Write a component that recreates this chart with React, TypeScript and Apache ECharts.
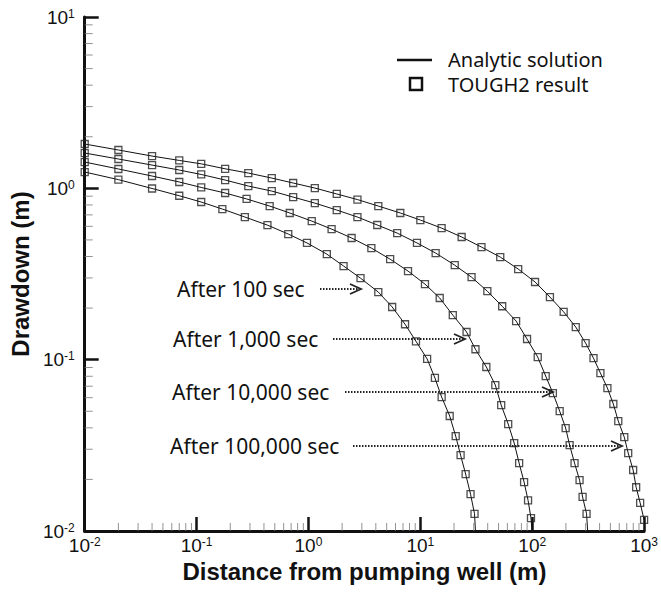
import React, { useEffect, useRef } from "react";
import * as echarts from "echarts";

// Distance from pumping well (m) and drawdown (m)
const R_100 = [0.01, 0.02, 0.04, 0.07, 0.11, 0.17, 0.27, 0.43, 0.66, 0.97, 1.46, 2.06, 2.92, 4.21, 5.6, 7.3, 9.14, 11.5, 13.5, 15.5, 18.3, 20.7, 22.9, 25.4, 28.1, 30.5];
const S_100 = [1.245, 1.124, 0.998, 0.905, 0.832, 0.757, 0.680, 0.610, 0.541, 0.480, 0.413, 0.352, 0.299, 0.248, 0.203, 0.161, 0.128, 0.101, 0.0782, 0.0605, 0.0469, 0.0358, 0.0277, 0.0215, 0.0164, 0.0126];

const R_1000 = [0.01, 0.02, 0.04, 0.07, 0.11, 0.18, 0.28, 0.45, 0.68, 1.07, 1.61, 2.43, 3.65, 5.37, 7.76, 11.0, 14.9, 19.5, 25.9, 31.1, 38.9, 46.8, 52.8, 61.0, 69.0, 76.4, 84.6, 91.8, 97.5];
const S_1000 = [1.424, 1.297, 1.18, 1.089, 1.012, 0.939, 0.867, 0.788, 0.718, 0.644, 0.578, 0.513, 0.448, 0.386, 0.329, 0.276, 0.229, 0.182, 0.145, 0.115, 0.0906, 0.0711, 0.0543, 0.0421, 0.0326, 0.0249, 0.0193, 0.0151, 0.0119];

const R_10000 = [0.01, 0.02, 0.04, 0.07, 0.11, 0.18, 0.29, 0.47, 0.73, 1.14, 1.79, 2.74, 4.12, 6.21, 9.33, 13.7, 20.3, 28.7, 39.7, 53.9, 71.8, 89.9, 112, 132, 153, 176, 199, 216, 239, 265, 282, 306];
const S_10000 = [1.607, 1.483, 1.367, 1.279, 1.205, 1.118, 1.031, 0.964, 0.889, 0.820, 0.747, 0.680, 0.611, 0.548, 0.480, 0.419, 0.356, 0.303, 0.251, 0.205, 0.168, 0.132, 0.1035, 0.0802, 0.0638, 0.0501, 0.0399, 0.0317, 0.0249, 0.0198, 0.0158, 0.0126];

const R_100000 = [0.01, 0.02, 0.04, 0.07, 0.11, 0.18, 0.29, 0.47, 0.73, 1.14, 1.79, 2.74, 4.21, 6.62, 10.0, 15.5, 23.4, 35.2, 51.8, 74.9, 106, 144, 191, 245, 300, 353, 407, 470, 531, 588, 665, 721, 798, 849, 922, 1000];
const S_100000 = [1.814, 1.674, 1.543, 1.455, 1.39, 1.30, 1.228, 1.148, 1.074, 1.004, 0.927, 0.860, 0.788, 0.718, 0.653, 0.586, 0.520, 0.454, 0.397, 0.338, 0.284, 0.232, 0.190, 0.155, 0.125, 0.102, 0.0835, 0.0683, 0.0551, 0.0438, 0.0353, 0.0285, 0.0227, 0.0180, 0.0146, 0.0116];

// where each analytic curve meets the bottom axis
const END_R = [31.1, 99.6, 313, 1000];
const END_S = [0.01, 0.01, 0.01, 0.0116];

const CURVE_R = [R_100, R_1000, R_10000, R_100000];
const CURVE_S = [S_100, S_1000, S_10000, S_100000];

const X_MIN = 0.01, X_MAX = 1000;
const Y_MIN = 0.01, Y_MAX = 10;
const X_DECADES = [0.01, 0.1, 1, 10, 100];
const Y_DECADES = [0.01, 0.1, 1];
const MINOR_MULT = [2, 3, 4, 5, 6, 7, 8, 9];

const ANNOT_TEXT = ["After 100 sec", "After 1,000 sec", "After 10,000 sec", "After 100,000 sec"];

const LINE_NAME = "Analytic solution";
const SYM_NAME = "TOUGH2 result";

export default function App() {
  const ref = useRef<HTMLDivElement>(null);
  useEffect(() => {
    if (!ref.current) return;
    const chart = echarts.init(ref.current, undefined, { renderer: "svg" });

    const supLabel = (v: number) => {
      const e = Math.round(Math.log10(v));
      return `{b|10}{s|${e}}`;
    };
    const rich = {
      b: { fontSize: 19, fontFamily: "Liberation Sans", color: "#111" },
      s: { fontSize: 12, fontFamily: "Liberation Sans", color: "#111", verticalAlign: "top", lineHeight: 12 },
    };

    const minorX: number[][] = [];
    X_DECADES.forEach((d) => MINOR_MULT.forEach((m) => minorX.push([d * m, Y_MIN])));
    const minorY: number[][] = [];
    Y_DECADES.forEach((d) => MINOR_MULT.forEach((m) => minorY.push([X_MIN, d * m])));

    const series: any[] = [];
    CURVE_R.forEach((rs, i) => {
      const pts = rs.map((r, j) => [r, CURVE_S[i][j]]);
      const linePts = pts.slice();
      const last = pts[pts.length - 1];
      if (last[0] !== END_R[i] || last[1] !== END_S[i]) linePts.push([END_R[i], END_S[i]]);
      series.push({
        name: LINE_NAME,
        type: "line",
        data: linePts,
        symbol: "none",
        lineStyle: { color: "#111", width: 1 },
        itemStyle: { color: "#111" },
        z: 2,
        silent: true,
      });
      series.push({
        name: SYM_NAME,
        type: "scatter",
        data: pts,
        symbol: "rect",
        symbolSize: 7,
        clip: false,
        itemStyle: { color: "rgba(255,255,255,0)", borderColor: "#222", borderWidth: 1.3 },
        z: 3,
        silent: true,
      });
    });
    series.push({
      type: "scatter",
      data: minorX,
      symbol: "rect",
      symbolSize: [1, 8],
      symbolOffset: [0, -4],
      clip: false,
      itemStyle: { color: "#777" },
      silent: true,
      z: 1,
    });
    series.push({
      type: "scatter",
      data: minorY,
      symbol: "rect",
      symbolSize: [8, 1],
      symbolOffset: [4, 0],
      clip: false,
      itemStyle: { color: "#777" },
      silent: true,
      z: 1,
    });

    const annotY = [289, 339, 392, 446];
    const annotX = [177, 173, 172, 170];
    const arrowStart = [320, 333, 345, 353];
    const arrowTip = [361, 465, 553, 622];
    const graphic: any[] = [];
    ANNOT_TEXT.forEach((t, i) => {
      graphic.push({
        type: "text",
        x: annotX[i],
        y: annotY[i],
        style: { text: t, font: '21px "Noto Sans"', fill: "#111", align: "left", verticalAlign: "middle" },
      });
      graphic.push({
        type: "line",
        shape: { x1: arrowStart[i], y1: annotY[i], x2: arrowTip[i] - 2, y2: annotY[i] },
        style: { stroke: "#222", lineWidth: 2, lineDash: [1.5, 1.5] },
      });
      graphic.push({
        type: "polyline",
        shape: { points: [[arrowTip[i] - 11, annotY[i] - 5], [arrowTip[i], annotY[i]], [arrowTip[i] - 11, annotY[i] + 5]] },
        style: { stroke: "#222", lineWidth: 1.8, fill: null },
      });
    });

    // legend (drawn as graphic)
    graphic.push({
      type: "line",
      shape: { x1: 397, y1: 60, x2: 432, y2: 60 },
      style: { stroke: "#111", lineWidth: 2.5 },
    });
    graphic.push({
      type: "text",
      x: 448,
      y: 59,
      style: { text: LINE_NAME, font: '20px "Noto Sans"', fill: "#111", align: "left", verticalAlign: "middle" },
    });
    graphic.push({
      type: "rect",
      shape: { x: 410, y: 78, width: 12, height: 12 },
      style: { stroke: "#111", lineWidth: 2.5, fill: "rgba(255,255,255,0)" },
    });
    graphic.push({
      type: "text",
      x: 448,
      y: 84,
      style: { text: SYM_NAME, font: '20px "Noto Sans"', fill: "#111", align: "left", verticalAlign: "middle" },
    });

    chart.setOption({
      animation: false,
      backgroundColor: "#fff",
      grid: { left: 83, right: 14, top: 17, bottom: 61, containLabel: false },
      xAxis: {
        type: "log",
        logBase: 10,
        min: X_MIN,
        max: X_MAX,
        splitNumber: 5,
        name: "Distance from pumping well (m)",
        nameLocation: "middle",
        nameGap: 28,
        nameTextStyle: { fontFamily: "Liberation Sans", fontWeight: "bold", fontSize: 24, color: "#111" },
        axisLine: { lineStyle: { color: "#111", width: 3 } },
        axisTick: { inside: true, length: 14, lineStyle: { color: "#111", width: 2.5 } },
        axisLabel: { formatter: supLabel, rich, margin: 5 },
        splitLine: { show: false },
      },
      yAxis: {
        type: "log",
        logBase: 10,
        min: Y_MIN,
        max: Y_MAX,
        splitNumber: 3,
        name: "Drawdown (m)",
        nameLocation: "middle",
        nameGap: 50,
        nameTextStyle: { fontFamily: "Liberation Sans", fontWeight: "bold", fontSize: 24, color: "#111" },
        axisLine: { lineStyle: { color: "#111", width: 3 } },
        axisTick: { inside: true, length: 14, lineStyle: { color: "#111", width: 2.5 } },
        axisLabel: { formatter: supLabel, rich, margin: 10 },
        splitLine: { show: false },
      },
      series,
      graphic,
    });
    return () => chart.dispose();
  }, []);
  return (
    <div
      ref={ref}
      style={{ position: "fixed", left: 0, top: 0, width: 661, height: 592, background: "#fff" }}
    />
  );
}
